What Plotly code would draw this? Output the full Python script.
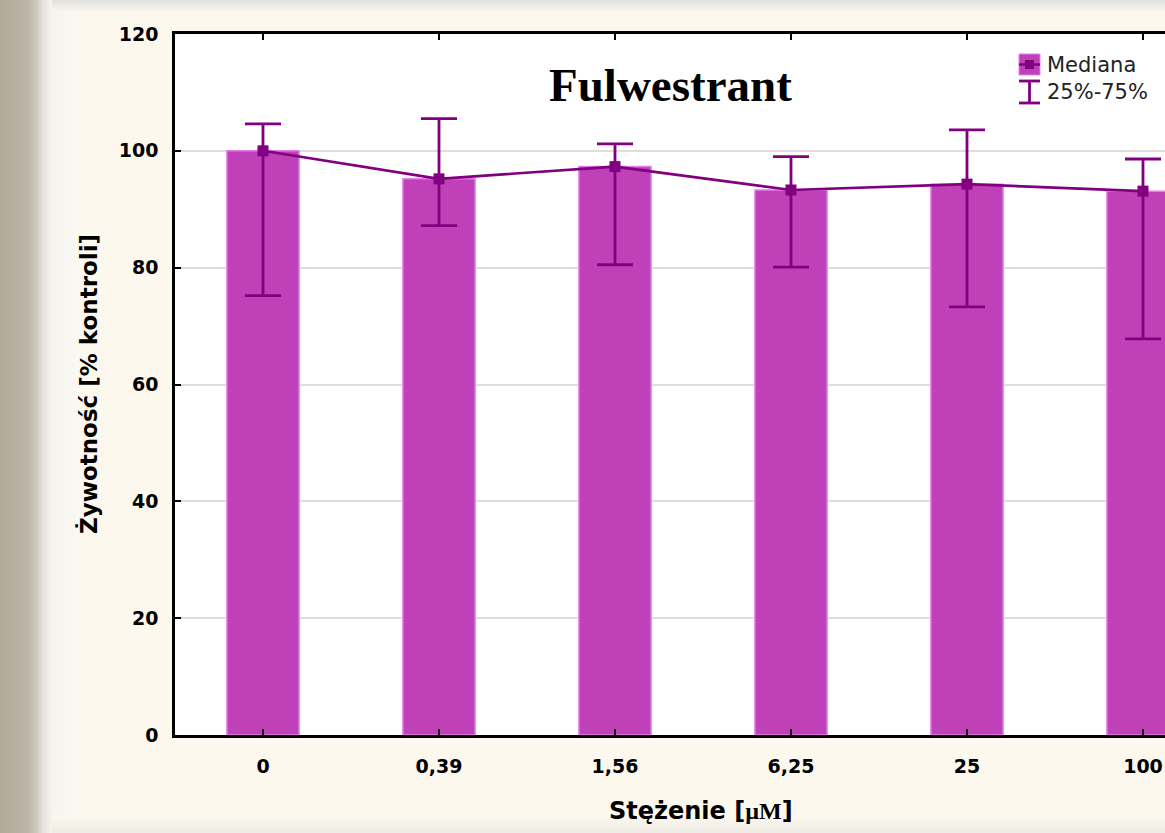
import plotly.graph_objects as go

# Concentrations and viability (% of control): median with 25th/75th percentiles
categories = ["0", "0,39", "1,56", "6,25", "25", "100"]
median = [100.0, 95.2, 97.3, 93.3, 94.3, 93.1]
q25 = [75.2, 87.2, 80.5, 80.1, 73.3, 67.8]
q75 = [104.6, 105.5, 101.2, 99.0, 103.6, 98.6]
y_ticks = [0, 20, 40, 60, 80, 100, 120]

W, H = 1165, 833
ML, MR, MT, MB = 175, 0, 34, 98
PW, PH = W - ML - MR, H - MT - MB

BAR = "#C040B8"
BAR_EDGE = "#E47EEC"
DARK = "#800080"
CREAM = "#FCF8EE"


def px(x):
    return (x - ML) / PW


def py(y):
    return (H - MB - y) / PH


def mix(c0, c1, t):
    return "rgb(%d,%d,%d)" % tuple(round(a + (b - a) * t) for a, b in zip(c0, c1))


err_plus = [hi - m for hi, m in zip(q75, median)]
err_minus = [m - lo for lo, m in zip(q25, median)]

fig = go.Figure()
fig.add_trace(go.Bar(
    x=categories, y=median, width=0.41,
    marker=dict(color=BAR, line=dict(color=BAR_EDGE, width=1.5)),
    showlegend=False, hoverinfo="skip",
))
fig.add_trace(go.Scatter(
    x=categories, y=median, mode="lines+markers",
    line=dict(color=DARK, width=2.6),
    marker=dict(symbol="square", size=11, color=DARK),
    error_y=dict(type="data", symmetric=False, array=err_plus,
                 arrayminus=err_minus, color=DARK, thickness=2.8, width=18),
    showlegend=False,
))

bold = dict(family="DejaVu Sans", size=19, color="black", weight="bold")

shapes = []
# soft, out-of-focus frame on the left edge (smooth horizontal gradient)
stops = [(0, (178, 170, 152)), (28, (188, 181, 166)), (36, (205, 200, 190)),
         (44, (232, 229, 222)), (52, (246, 244, 238)), (78, (250, 248, 242)),
         (84, (252, 248, 238))]
for (xa, ca), (xb, cb) in zip(stops[:-1], stops[1:]):
    steps = max(1, xb - xa)
    for i in range(steps):
        x0 = xa + (xb - xa) * i / steps
        x1 = xa + (xb - xa) * (i + 1) / steps
        shapes.append(dict(type="rect", xref="paper", yref="paper",
                           x0=px(x0), x1=px(x1 + 0.5), y0=py(H), y1=py(0),
                           fillcolor=mix(ca, cb, (i + 0.5) / steps),
                           line=dict(width=0), layer="below"))
# faint bands along the top and bottom edges
top_c, bot_c = (224, 224, 222), (238, 236, 230)
for i in range(12):
    shapes.append(dict(type="rect", xref="paper", yref="paper",
                       x0=px(52), x1=px(W), y0=py(i + 1), y1=py(i),
                       fillcolor=mix(top_c, (252, 248, 238), i / 12),
                       line=dict(width=0), layer="below"))
for i in range(18):
    shapes.append(dict(type="rect", xref="paper", yref="paper",
                       x0=px(52), x1=px(W), y0=py(815 + i + 1), y1=py(815 + i),
                       fillcolor=mix((252, 248, 238), bot_c, i / 17),
                       line=dict(width=0), layer="below"))

# legend glyphs
shapes += [
    dict(type="rect", xref="paper", yref="paper", x0=px(1019), x1=px(1040),
         y0=py(75), y1=py(54), fillcolor=BAR, line=dict(color=BAR_EDGE, width=1)),
    dict(type="line", xref="paper", yref="paper", x0=px(1019), x1=px(1040),
         y0=py(64.5), y1=py(64.5), line=dict(color=DARK, width=2.5)),
    dict(type="rect", xref="paper", yref="paper", x0=px(1025), x1=px(1034),
         y0=py(69), y1=py(60), fillcolor=DARK, line=dict(width=0)),
    dict(type="line", xref="paper", yref="paper", x0=px(1029.5), x1=px(1029.5),
         y0=py(103), y1=py(81), line=dict(color=DARK, width=2.8)),
    dict(type="line", xref="paper", yref="paper", x0=px(1019), x1=px(1040),
         y0=py(81), y1=py(81), line=dict(color=DARK, width=2.8)),
    dict(type="line", xref="paper", yref="paper", x0=px(1019), x1=px(1040),
         y0=py(103), y1=py(103), line=dict(color=DARK, width=2.8)),
]

annotations = [
    dict(text="Fulwestrant", xref="paper", yref="paper", x=px(670), y=py(85),
         xanchor="center", yanchor="middle", showarrow=False,
         font=dict(family="Liberation Serif", size=47, color="black", weight="bold")),
    dict(text="Mediana", xref="paper", yref="paper", x=px(1045), y=py(65),
         xanchor="left", yanchor="middle", showarrow=False,
         font=dict(family="DejaVu Sans", size=21, color="#222222")),
    dict(text="25%-75%", xref="paper", yref="paper", x=px(1045), y=py(92),
         xanchor="left", yanchor="middle", showarrow=False,
         font=dict(family="DejaVu Sans", size=21, color="#222222")),
    dict(text="Stężenie [<span style='font-family:Liberation Serif'>µM</span>]",
         xref="paper", yref="paper", x=px(701), y=py(811),
         xanchor="center", yanchor="middle", showarrow=False,
         font=dict(family="DejaVu Sans", size=24, color="black", weight="bold")),
    dict(text="Żywotność [% kontroli]", xref="paper", yref="paper",
         x=px(88), y=py(384), xanchor="center", yanchor="middle",
         textangle=-90, showarrow=False,
         font=dict(family="DejaVu Sans", size=23, color="black", weight="bold")),
]

fig.update_layout(
    width=W, height=H,
    margin=dict(l=ML, r=MR, t=MT, b=MB, pad=0),
    paper_bgcolor=CREAM, plot_bgcolor="white",
    shapes=shapes, annotations=annotations,
    showlegend=False,
)
fig.update_xaxes(
    type="category", categoryorder="array", categoryarray=categories,
    range=[-0.5, 5.125],
    showline=True, linecolor="black", linewidth=2.5, mirror="ticks",
    ticks="inside", ticklen=6, tickwidth=2, tickcolor="black",
    showgrid=False, tickfont=bold, ticklabelstandoff=12,
)
fig.update_yaxes(
    range=[0, 120], tickvals=y_ticks, ticktext=[str(v) for v in y_ticks],
    showline=True, linecolor="black", linewidth=2.5, mirror=False,
    ticks="inside", ticklen=6, tickwidth=2, tickcolor="black",
    showgrid=True, gridcolor="#DEDEDE", gridwidth=1.5,
    zeroline=False, tickfont=bold, ticklabelstandoff=10,
)

fig.write_html("out.html")
